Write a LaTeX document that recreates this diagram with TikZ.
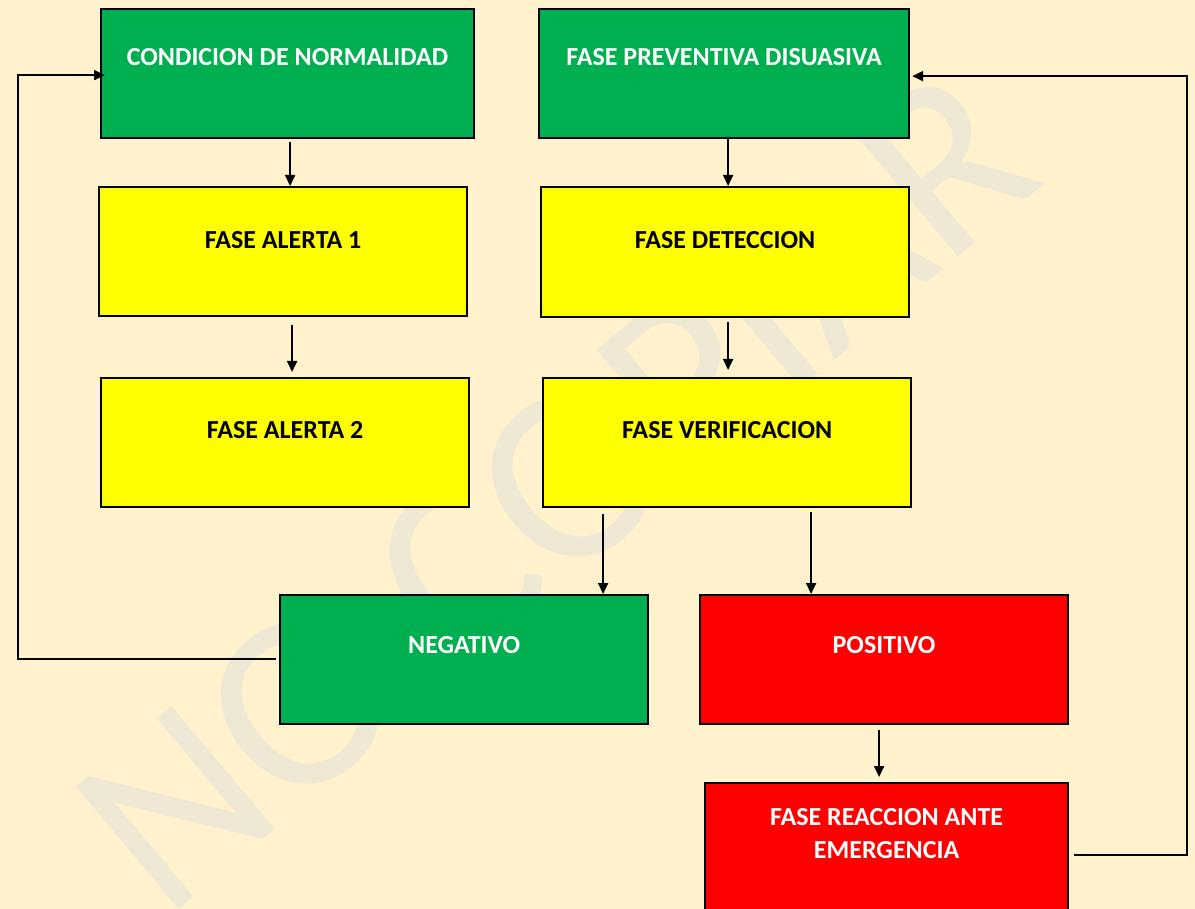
\documentclass[tikz,border=0pt]{standalone}
\usepackage{fontspec}
\setmainfont{Carlito}
\usetikzlibrary{arrows.meta,calc}
\definecolor{bg}{HTML}{FFF2CC}
\definecolor{wm}{HTML}{EFE8D4}
\definecolor{boxgreen}{HTML}{00B050}
\definecolor{boxyellow}{HTML}{FFFF00}
\definecolor{boxred}{HTML}{FF0000}
\tikzset{
  box/.style={draw=black, line width=2.2pt, anchor=north west, inner sep=0pt},
  gbox/.style={box, fill=boxgreen},
  ybox/.style={box, fill=boxyellow},
  rbox/.style={box, fill=boxred},
  lbl/.style={anchor=base, inner sep=0pt, font=\bfseries\fontsize{26}{33}\selectfont, align=center},
  wlbl/.style={lbl, text=white},
  klbl/.style={lbl, text=black},
  arr/.style={line width=1.8pt, -{Triangle[length=11pt,width=10pt]}},
  link/.style={line width=1.8pt}
}
\begin{document}
\begin{tikzpicture}[x=1pt,y=-1pt]
\useasboundingbox (0,0) rectangle (1195,909);
\clip (0,0) rectangle (1195,909);
\fill[bg] (0,0) rectangle (1195,909);
\node[text=wm, rotate=40, font=\fontsize{250}{250}\selectfont, inner sep=0pt] (wmark) at (555,490) {NO COPIAR};

% boxes
\node[gbox, minimum width=373pt, minimum height=129pt] (cn) at (100,8) {};
\node[gbox, minimum width=370pt, minimum height=129pt] (fpd) at (538,8) {};
\node[ybox, minimum width=368pt, minimum height=129pt] (fa1) at (98,186) {};
\node[ybox, minimum width=368pt, minimum height=130pt] (fd) at (540,186) {};
\node[ybox, minimum width=368pt, minimum height=129pt] (fa2) at (100,377) {};
\node[ybox, minimum width=368pt, minimum height=129pt] (fv) at (542,377) {};
\node[gbox, minimum width=368pt, minimum height=129pt] (neg) at (279,594) {};
\node[rbox, minimum width=368pt, minimum height=129pt] (pos) at (699,594) {};
\node[rbox, minimum width=363pt, minimum height=144pt] (frae) at (704,782) {};

% labels
\node[wlbl] (cnt) at ([yshift=-57.5pt]cn.north) {CONDICION DE NORMALIDAD};
\node[wlbl] (fpdt) at ([yshift=-57.5pt]fpd.north) {FASE PREVENTIVA DISUASIVA};
\node[klbl] (fa1t) at ([yshift=-62.5pt]fa1.north) {FASE ALERTA 1};
\node[klbl] (fdt) at ([yshift=-62.5pt]fd.north) {FASE DETECCION};
\node[klbl] (fa2t) at ([yshift=-61.5pt]fa2.north) {FASE ALERTA 2};
\node[klbl] (fvt) at ([yshift=-61.5pt]fv.north) {FASE VERIFICACION};
\node[wlbl] (negt) at ([yshift=-59.5pt]neg.north) {NEGATIVO};
\node[wlbl] (post) at ([yshift=-59.5pt]pos.north) {POSITIVO};
\node[wlbl] (fraet) at ([yshift=-76.5pt]frae.north) {FASE REACCION ANTE\\EMERGENCIA};

% arrows
\draw[arr] ([xshift=2.5pt,yshift=-3pt]cn.south) -- ([xshift=2.5pt]cn.south |- fa1.north);
\draw[arr] ([xshift=9pt,yshift=-8pt]fa1.south) -- ([xshift=9pt,yshift=5pt]fa1.south |- fa2.north);
\draw[arr] ([xshift=4pt]fpd.south) -- ([xshift=4pt]fpd.south |- fd.north);
\draw[arr] ([xshift=3pt,yshift=-4pt]fd.south) -- ([xshift=3pt,yshift=7pt]fd.south |- fv.north);
\draw[arr] ([xshift=-124pt,yshift=-6pt]fv.south) -- ([xshift=-124pt]fv.south |- neg.north);
\draw[arr] ([xshift=84pt,yshift=-4pt]fv.south) -- ([xshift=84pt]fv.south |- pos.north);
\draw[arr] ([xshift=-5pt,yshift=-5pt]pos.south) -- ([xshift=-5pt,yshift=5pt]pos.south |- frae.north);

% feedback loops
\draw[arr] ([xshift=-3pt,yshift=0.5pt]neg.west) -- ++(-258,0) |- ([xshift=5pt,yshift=-1.5pt]cn.west);
\draw[arr] ([xshift=5pt]frae.east) -- ++(113,0) |- ([xshift=2pt,yshift=-2.5pt]fpd.east);
\end{tikzpicture}
\end{document}
